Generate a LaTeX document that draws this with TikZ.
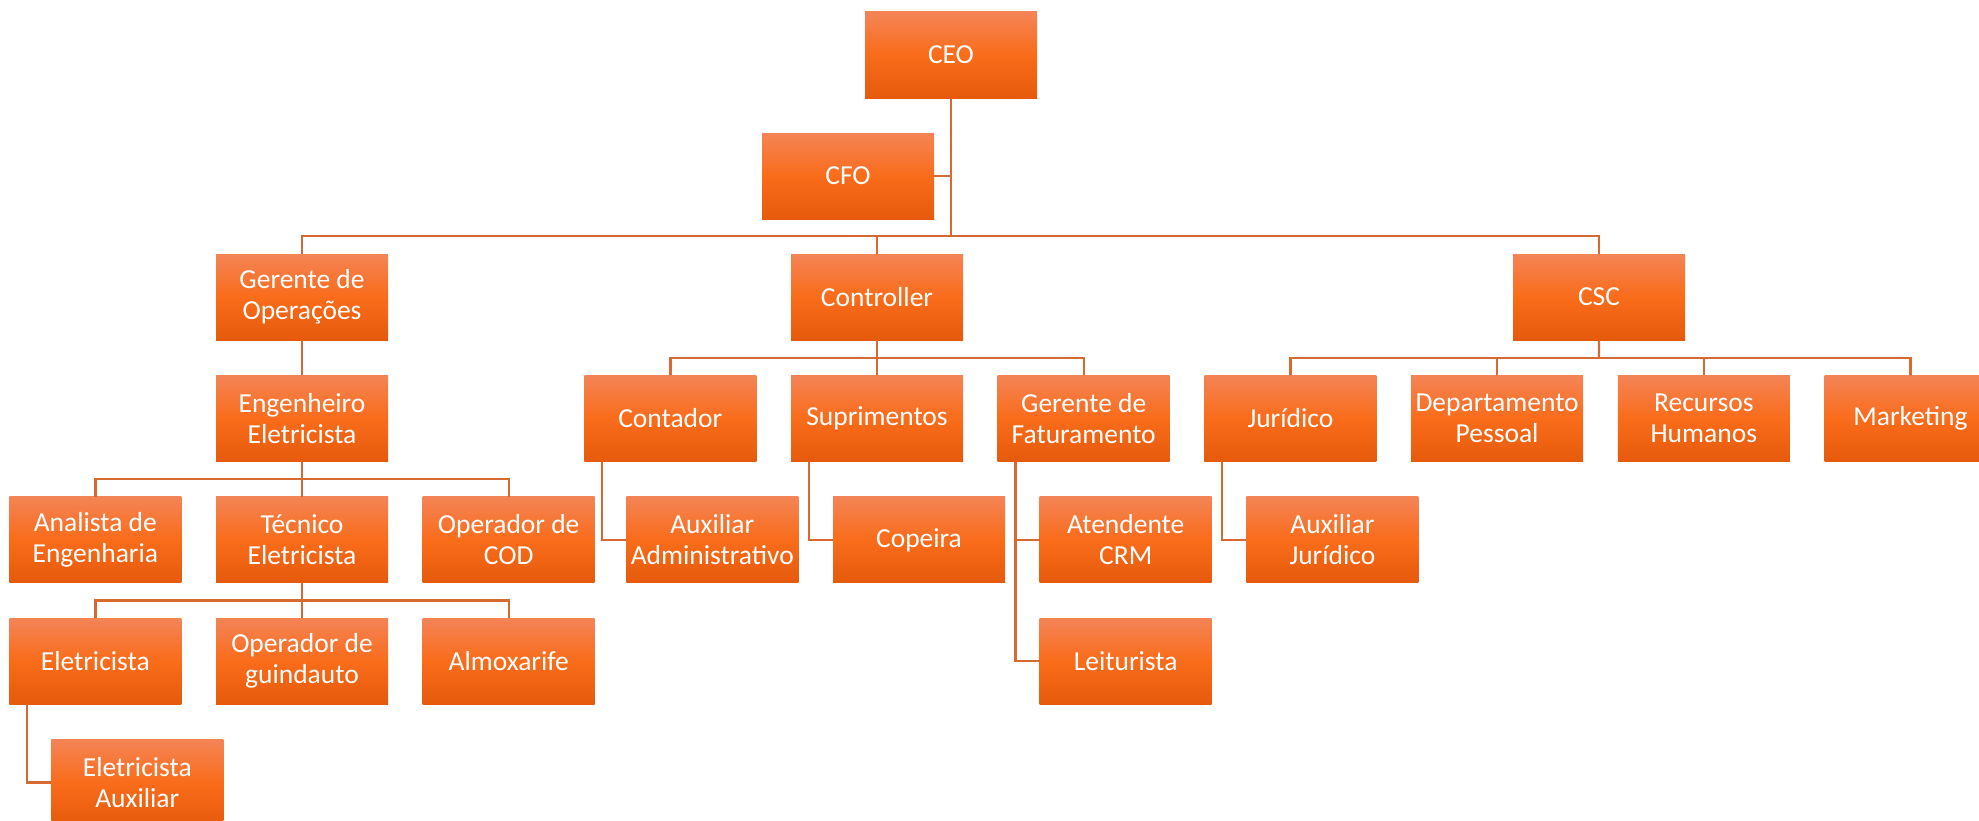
\documentclass[tikz,border=0pt]{standalone}
\usepackage{fontspec}
\setmainfont{Carlito}
\usetikzlibrary{positioning, calc}

\definecolor{orgtop}{RGB}{244,132,86}
\definecolor{orgmid}{RGB}{249,108,26}
\definecolor{orgbot}{RGB}{229,90,12}
\definecolor{linkclr}{RGB}{214,106,50}

\begin{document}
\begin{tikzpicture}[
		x=1bp, y=-1bp,
		box/.style={rectangle, minimum width=172bp, minimum height=86bp, inner sep=2bp, align=center,
			top color=orgtop, bottom color=orgbot, middle color=orgmid, text=white,
			font=\fontsize{27.5bp}{31bp}\selectfont},
		link/.style={draw=linkclr, line width=2.4bp},
	]
	\useasboundingbox (0,0) rectangle (1979,821);

	% top
	\node[box] (ceo) at (951,55) {CEO};
	\node[box] (cfo) at (848,176) {CFO};

	% first level
	\node[box] (gop) at (302,297) {Gerente de\\Operações};
	\node[box] (ctrl) at (877,297) {Controller};
	\node[box] (csc) at (1599,297) {CSC};

	% second level
	\node[box, below=35bp of gop] (eng) {Engenheiro\\Eletricista};
	\node[box, below=35bp of ctrl] (supr) {Suprimentos};
	\node[box, left=34.3bp of supr] (contador) {Contador};
	\node[box, right=34.3bp of supr] (gfat) {Gerente de\\Faturamento};
	\node[box, right=34.3bp of gfat] (juridico) {Jurídico};
	\node[box, right=34.3bp of juridico] (dp) {Departamento\\Pessoal};
	\node[box, right=34.3bp of dp] (rh) {Recursos\\Humanos};
	\node[box, right=34.3bp of rh] (marketing) {Marketing};

	% third level
	\node[box, below=35bp of eng] (tecnico) {Técnico\\Eletricista};
	\node[box, left=34.3bp of tecnico] (analista) {Analista de\\Engenharia};
	\node[box, right=34.3bp of tecnico] (opcod) {Operador de\\COD};
	\node[box, below=35bp of contador, xshift=42bp] (auxadm) {Auxiliar\\Administrativo};
	\node[box, below=35bp of supr, xshift=42bp] (copeira) {Copeira};
	\node[box, below=35bp of gfat, xshift=42bp] (atendente) {Atendente\\CRM};
	\node[box, below=35bp of juridico, xshift=42bp] (auxjur) {Auxiliar\\Jurídico};

	% fourth level
	\node[box, below=35bp of analista] (eletricista) {Eletricista};
	\node[box, below=35bp of tecnico] (opguind) {Operador de\\guindauto};
	\node[box, below=35bp of opcod] (almox) {Almoxarife};
	\node[box, below=35bp of atendente] (leiturista) {Leiturista};
	\node[box, below=35bp of eletricista, xshift=42bp] (eletaux) {Eletricista\\Auxiliar};

	% CEO bus
	\coordinate (ceobus) at (ceo.south |- 0,236);
	\draw[link] (ceo.south) -- (ceobus);
	\draw[link] (cfo.east) -- (cfo.east -| ceo.south);
	\draw[link] (gop.north) |- (ceobus) -| (csc.north);
	\draw[link] (ctrl.north) -- (ctrl.north |- ceobus);

	% Controller bus
	\coordinate (ctrlbus) at ($(ctrl.south)!.5!(supr.north)$);
	\draw[link] (ctrl.south) -- (supr.north);
	\draw[link] (contador.north) |- (ctrlbus) -| (gfat.north);

	% CSC bus
	\coordinate (cscbus) at ($(csc.south)!.5!(csc.south |- dp.north)$);
	\draw[link] (csc.south) -- (cscbus);
	\draw[link] (juridico.north) |- (cscbus) -| (marketing.north);
	\draw[link] (dp.north) -- (dp.north |- cscbus);
	\draw[link] (rh.north) -- (rh.north |- cscbus);

	% operations branch
	\draw[link] (gop.south) -- (eng.north);
	\draw[link] (analista.north) |- ($(eng.south)!.5!(tecnico.north)$) -| (opcod.north);
	\draw[link] (eng.south) -- (tecnico.north);
	\draw[link] (eletricista.north) |- ($(tecnico.south)!.5!(opguind.north)$) -| (almox.north);
	\draw[link] (tecnico.south) -- (opguind.north);

	% side links
	\draw[link] ([xshift=18bp]eletricista.south west) |- (eletaux.west);
	\draw[link] ([xshift=18bp]contador.south west) |- (auxadm.west);
	\draw[link] ([xshift=18bp]supr.south west) |- (copeira.west);
	\draw[link] ([xshift=18bp]gfat.south west) |- (atendente.west);
	\draw[link] ([xshift=18bp]gfat.south west) |- (leiturista.west);
	\draw[link] ([xshift=18bp]juridico.south west) |- (auxjur.west);
\end{tikzpicture}
\end{document}
